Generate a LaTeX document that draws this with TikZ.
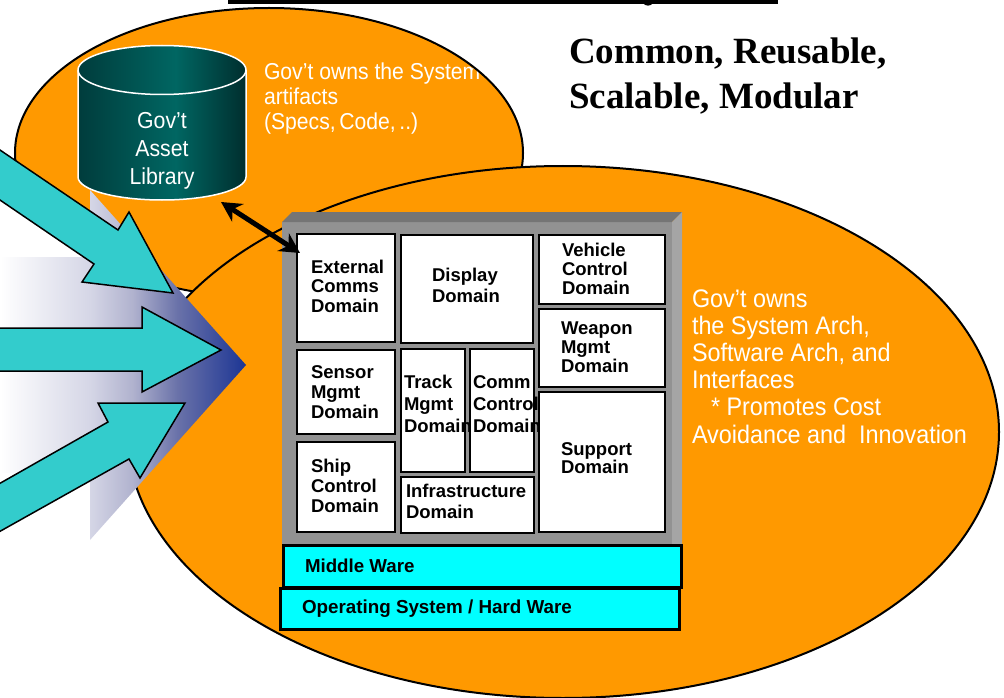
\documentclass[tikz,border=0pt]{standalone}
\usepackage{fontspec}
\setmainfont{Liberation Sans}
\newfontfamily\libserif{Liberation Serif}
\newfontfamily\narrowsans[FakeStretch=0.92]{Liberation Sans}
\usetikzlibrary{arrows.meta,calc}
\definecolor{orng}{HTML}{FF9900}
\definecolor{tealarrow}{HTML}{33CCCC}
\definecolor{warecyan}{HTML}{00FFFF}
\definecolor{facegray}{HTML}{929292}
\definecolor{topgray}{HTML}{757575}
\definecolor{rightgray}{HTML}{A5A5A5}
\definecolor{fada}{HTML}{D5D6E6}
\definecolor{fadb}{HTML}{B0B2CE}
\definecolor{fadc}{HTML}{6A72A9}
\definecolor{fadd}{HTML}{1C3594}
\definecolor{cyla}{HTML}{003C3C}
\definecolor{cylb}{HTML}{006662}
\definecolor{cylc}{HTML}{002E2E}
\pgfdeclarehorizontalshading{cylshade}{100bp}{color(0bp)=(cyla); color(25bp)=(cyla); color(54bp)=(cylb); color(75bp)=(cylc); color(100bp)=(cylc)}
\pgfdeclarehorizontalshading{fadeshade}{100bp}{color(0bp)=(white); color(25bp)=(white); color(43.3bp)=(fada); color(52bp)=(fadb); color(61bp)=(fadc); color(75bp)=(fadd); color(100bp)=(fadd)}
\newcommand{\dombox}[6][domainbox]{%
  \node[#1, minimum width={#5-#3-2}, minimum height={#6-#4-2}] (#2) at ({(#3+#5)/2},{(#4+#6)/2}) {};}
\newcommand{\lab}[5]{%
  \node[lab, #1] (#2) at (#3,{#4-40}) {\rule{0pt}{40pt}#5};}
\tikzset{
  x=1pt, y=-1pt,
  lab/.style={inner sep=0pt, outer sep=0pt, anchor=north west, align=left},
  dom/.style 2 args={font=\fontsize{#1}{#2}\selectfont\bfseries, text=black},
  wht/.style 2 args={font=\fontsize{#1}{#2}\selectfont\narrowsans, text=white},
  head/.style={font=\fontsize{37}{44.5}\selectfont\libserif\bfseries, text=black},
  bubble/.style={fill=orng},
  bubbleline/.style={draw=black, line width=2pt},
  domainbox/.style={draw=black, fill=white, line width=2pt, inner sep=0pt, outer sep=0pt},
  warebox/.style={draw=black, fill=warecyan, line width=3pt, inner sep=0pt, outer sep=0pt},
  bigarrow/.style={fill=tealarrow, draw=black, line width=1.5pt, line join=miter},
  cylline/.style={draw=white, line width=1.5pt},
  link/.style={draw=black, line width=5pt, {Stealth[length=20pt,width=21pt]}-{Stealth[length=20pt,width=21pt]}}
}
\begin{document}
\begin{tikzpicture}
\useasboundingbox (0,0) rectangle (1004,698);
% top bar
\fill[black] (228,0) rectangle (778,4);
\fill[black] (643,3) .. controls (645,6.5) and (651,6.5) .. (653,3) -- cycle;
% small bubble
\fill[bubble] (269,153) ellipse [x radius=254, y radius=145];
\lab{wht={23}{24.6}}{t1}{264}{80}{Gov’t owns the System\\artifacts\\(Specs,\hspace{3.6pt}Code,\hspace{3.6pt}..)}
\draw[bubbleline] (269,153) ellipse [x radius=254, y radius=145];
% big bubble
\path[bubble, bubbleline] (563,432) ellipse [x radius=436, y radius=266];
% gradient block arrow
\shade[shading=fadeshade]
  (0,257) -- (90,257) -- (90,190) -- (246,365) -- (90,540) -- (90,473) -- (0,473) -- cycle;
% cylinder
\shade[shading=cylshade]
  (78,70) arc[start angle=180, end angle=360, x radius=84, y radius=24.5]
  -- (246,177) arc[start angle=0, end angle=180, x radius=84, y radius=23] -- cycle;
\draw[cylline]
  (78,70) arc[start angle=180, end angle=360, x radius=84, y radius=24.5]
  -- (246,177) arc[start angle=0, end angle=180, x radius=84, y radius=23] -- cycle;
\draw[cylline] (78,70) arc[start angle=180, end angle=0, x radius=84, y radius=24.5];
\node[inner sep=0pt, outer sep=0pt, minimum width=168, minimum height=155] (lib) at (162,122.5) {};
\lab{wht={23.1}{28.5}, anchor=north, align=center}{t2}{162}{128}{Gov’t\\Asset\\Library}
% teal arrows
\path[bigarrow] (-3,148) -- (118,230) -- (129,212) -- (173,293) -- (82,282) -- (94,264) -- (-3,198);
\path[bigarrow] (-3,328) -- (142,328) -- (142,307) -- (221,350) -- (142,392) -- (142,371) -- (-3,371);
\path[bigarrow] (-3,485) -- (108,422) -- (98,403) -- (185,403) -- (140,478) -- (129,459) -- (-3,533);
% frame
\fill[facegray] (282,222) rectangle (672,545);
\fill[topgray] (282,222) -- (292,212) -- (682,212) -- (672,222) -- cycle;
\fill[rightgray] (672,222) -- (682,212) -- (682,545) -- (672,545) -- cycle;
% domains
\dombox{ext}{296}{233}{396}{343}
\lab{dom={18.5}{19.9}}{text1}{311}{273}{External\\Comms\\Domain}
\dombox{disp}{400}{234}{534}{344}
\lab{dom={18.5}{21.5}}{text2}{432}{281}{Display\\Domain}
\dombox{veh}{538}{234}{666}{305}
\lab{dom={18.5}{19}}{text3}{562}{256}{Vehicle\\Control\\Domain}
\dombox{wpn}{538}{308}{666}{388}
\lab{dom={18.5}{19}}{text4}{561}{334}{Weapon\\Mgmt\\Domain}
\dombox{sup}{538}{391}{666}{533}
\lab{dom={18.5}{18.5}}{text5}{561}{455}{Support\\Domain}
\dombox{sen}{296}{349}{396}{435}
\lab{dom={18.5}{20}}{text6}{311}{378}{Sensor\\Mgmt\\Domain}
\dombox{ship}{296}{441}{396}{533}
\lab{dom={18.5}{20}}{text7}{311}{472}{Ship\\Control\\Domain}
\dombox{trk}{400}{348}{466}{473}
\lab{dom={18.5}{22}}{text8}{404}{388}{Track\\Mgmt\\Domain}
\dombox{com}{469}{348}{535}{473}
\lab{dom={18.5}{22}}{text9}{473}{388}{Comm\\Control\\Domain}
\dombox{inf}{400}{476}{535}{534}
\lab{dom={18.5}{21.5}}{text10}{406}{497}{Infrastructure\\Domain}
% ware layers
\dombox[warebox]{mid}{282.5}{544.5}{682.2}{588}
\lab{dom={18.7}{20}}{text11}{305}{572}{Middle Ware}
\dombox[warebox]{os}{279.5}{587.5}{680.5}{630.5}
\lab{dom={18.8}{20}}{text12}{302}{613}{Operating System / Hard Ware}
% link
\draw[link] ($(lib.south east)+(-25,2)$) -- ($(ext.north west)+(3,19)$);
% headline
\lab{head}{text13}{569}{64}{Common, Reusable,\\Scalable, Modular}
\lab{wht={25.4}{27.2}}{text14}{692}{307}{Gov’t owns\\the System Arch,\\Software Arch, and\\Interfaces\\\hspace*{19pt}* Promotes Cost\\Avoidance and\ \ Innovation}
\end{tikzpicture}
\end{document}
